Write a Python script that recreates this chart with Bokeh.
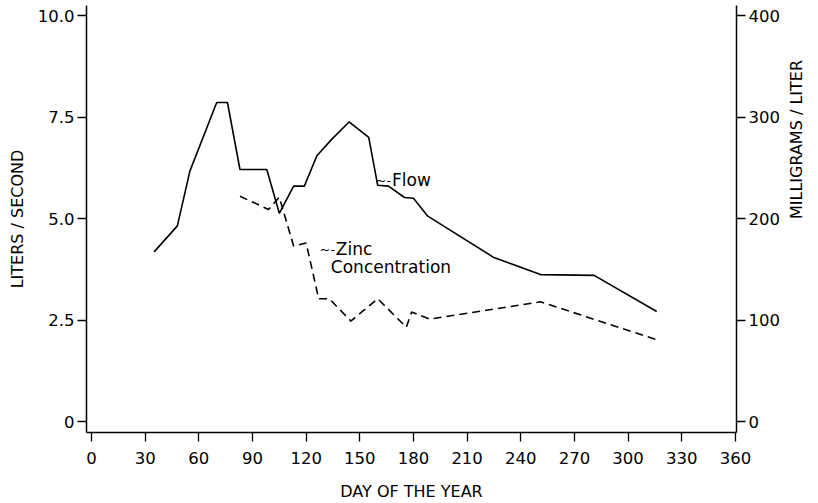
import math
from bokeh.plotting import figure
from bokeh.models import Range1d, LinearAxis, FixedTicker, Label
from bokeh.embed import file_html
from bokeh.resources import INLINE

# ---- data ----
flow_day = [35, 48, 55, 70, 76, 83, 98, 105, 113, 119, 126, 134, 144, 155, 160,
            166, 175, 180, 188, 225, 251, 281, 316]
flow_lps = [4.18, 4.82, 6.17, 7.86, 7.86, 6.21, 6.21, 5.13, 5.8, 5.8, 6.55, 6.94,
            7.38, 7.0, 5.82, 5.8, 5.52, 5.5, 5.06, 4.04, 3.62, 3.6, 2.71]

zinc_day = [83, 99, 105, 113, 120, 127, 133, 145, 160, 176, 179, 189, 251, 317]
zinc_mgl = [222, 209, 221, 173, 176, 121, 121, 99, 121, 93, 108, 101, 118, 80]

x_ticks = [0, 30, 60, 90, 120, 150, 180, 210, 240, 270, 300, 330, 360]
left_ticks = [0, 2.5, 5.0, 7.5, 10.0]
left_tick_labels = ["0", "2.5", "5.0", "7.5", "10.0"]
right_ticks = [0, 100, 200, 300, 400]

FONT = "DejaVu Sans"

p = figure(width=818, height=503, output_backend="svg", toolbar_location=None,
           x_range=Range1d(-2.8, 360.6), y_range=Range1d(-0.27, 10.25),
           min_border_left=86, min_border_right=82, min_border_top=5,
           min_border_bottom=67, x_axis_location="below")
p.extra_y_ranges = {"zinc": Range1d(-0.27 * 40, 10.25 * 40)}
p.outline_line_color = None
p.xgrid.visible = False
p.ygrid.visible = False
p.background_fill_color = "white"
p.border_fill_color = "white"


def style_axis(ax):
    ax.axis_line_color = "black"
    ax.axis_line_width = 1.5
    ax.major_tick_line_color = "black"
    ax.major_tick_line_width = 1.3
    ax.major_tick_in = 0
    ax.major_tick_out = 9
    ax.minor_tick_line_color = None
    ax.major_label_text_font = FONT
    ax.major_label_text_font_size = "16.5px"
    ax.major_label_text_color = "black"
    ax.axis_label_text_font = FONT
    ax.axis_label_text_font_size = "16px"
    ax.axis_label_text_font_style = "normal"
    ax.axis_label_text_color = "black"


xa = p.xaxis[0]
style_axis(xa)
xa.ticker = FixedTicker(ticks=x_ticks)
xa.axis_label = "DAY OF THE YEAR"
xa.major_label_standoff = 10
xa.axis_label_standoff = 15

ya = p.yaxis[0]
style_axis(ya)
ya.ticker = FixedTicker(ticks=left_ticks)
ya.major_label_overrides = {t: s for t, s in zip(left_ticks, left_tick_labels)}
ya.axis_label = "LITERS / SECOND"
ya.major_label_standoff = 3
ya.axis_label_standoff = 8

ra = LinearAxis(y_range_name="zinc", axis_label="MILLIGRAMS / LITER")
style_axis(ra)
ra.ticker = FixedTicker(ticks=right_ticks)
ra.major_label_standoff = 3
ra.axis_label_standoff = 14
ra.axis_label_orientation = math.pi / 2
p.add_layout(ra, "right")

p.line(flow_day, flow_lps, line_color="black", line_width=1.6)
p.line(zinc_day, zinc_mgl, y_range_name="zinc", line_color="black",
       line_width=1.6, line_dash="8 5")

# text labels with wavy leaders
for txt, x, y in [("Flow", 168, 5.94), ("Zinc", 136.6, 4.25),
                  ("Concentration", 133.8, 3.81)]:
    p.add_layout(Label(x=x, y=y, text=txt, text_font=FONT, text_font_size="17px",
                       text_color="black", text_baseline="middle",
                       text_align="left"))
for x, y in [(167.5, 5.94), (136.2, 4.25)]:
    p.add_layout(Label(x=x, y=y, text="~-", text_font=FONT, text_font_size="13px",
                       text_color="black", text_baseline="middle",
                       text_align="right"))

open("out.html", "w").write(file_html(p, INLINE))
